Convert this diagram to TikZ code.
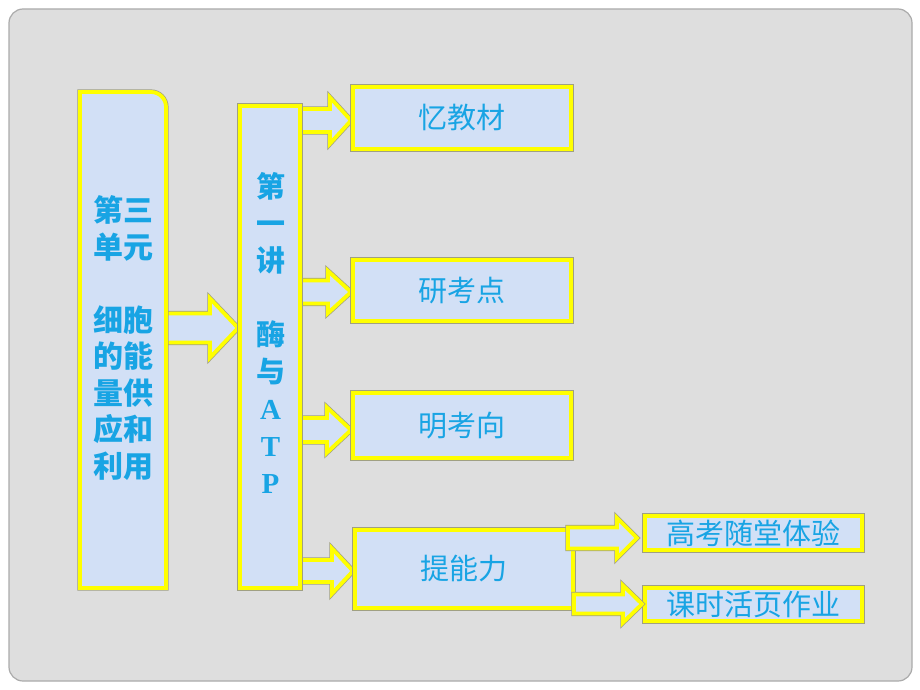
\documentclass[tikz,border=0pt]{standalone}
\usepackage{fontspec}
\newfontfamily\cjk{Noto Sans CJK SC}
\newfontfamily\atpfont{Liberation Serif}
\usetikzlibrary{calc}
\pgfdeclarelayer{arrows}
\pgfdeclarelayer{back}
\pgfsetlayers{back,arrows,main}
\definecolor{bggray}{HTML}{DEDEDE}
\definecolor{bgline}{HTML}{ABABAB}
\definecolor{boxfill}{RGB}{210,224,246}
\definecolor{txt}{RGB}{24,164,228}
\definecolor{ylw}{RGB}{255,255,0}
\definecolor{edgegray}{RGB}{160,160,130}
\tikzset{
  box/.style={draw=ylw, line width=3.8pt, fill=boxfill,
    preaction={draw=edgegray, line width=5.2pt}},
  rbox/.style={box, rectangle, anchor=north west, inner sep=0pt, outer sep=0pt,
    text=txt, font=\cjk\fontsize{29}{34}\selectfont},
  arrowbox/.style={box, line join=miter},
  coltext/.style={text=txt, align=center, inner sep=0pt}
}
\newcommand\blockarr[5]{%
  \draw[arrowbox] let \p1=(#1), \p2=(#2) in
    (\x1,\y2+#3pt) -- (\x2-#5pt,\y2+#3pt) -- (\x2-#5pt,\y2+#4pt) -- (\x2,\y2)
    -- (\x2-#5pt,\y2-#4pt) -- (\x2-#5pt,\y2-#3pt) -- (\x1,\y2-#3pt) -- cycle;}
\begin{document}
\begin{tikzpicture}[x=1pt,y=-1pt]
\useasboundingbox (0,0) rectangle (920,690);
\begin{pgfonlayer}{back}
\fill[white] (0,0) rectangle (920,690);
\draw[fill=bggray, draw=bgline, line width=1.2pt, rounded corners=14pt] (9,9) rectangle (912,681);
\end{pgfonlayer}

% boxes
\draw[box] (80,588) -- (80,92) -- (151,92)
  arc[start angle=-90, end angle=0, radius=15] -- (166,588) -- cycle;
\node[inner sep=0pt, outer sep=0pt, anchor=north west, minimum width=86pt, minimum height=496pt] (b1) at (80,92) {};
\node[rbox, minimum width=60pt, minimum height=482pt] (b2) at (240,106) {};
\node[rbox, minimum width=218pt, minimum height=62pt] (b3) at (353,87) {忆教材};
\node[rbox, minimum width=218pt, minimum height=61pt] (b4) at (353,260) {研考点};
\node[rbox, minimum width=218pt, minimum height=65pt] (b5) at (353,393) {明考向};
\node[rbox, minimum width=218pt, minimum height=78pt] (b6) at (355,530) {提能力};
\node[rbox, minimum width=217pt, minimum height=34pt] (b7) at (645,516) {高考随堂体验};
\node[rbox, minimum width=217pt, minimum height=33pt] (b8) at (645,588) {课时活页作业};

% column texts
\node[coltext, font=\cjk\bfseries\fontsize{30}{36.5}\selectfont] (t1) at (123,338)
  {第三\\单元\\ \\细胞\\的能\\量供\\应和\\利用};
\node[coltext, font=\cjk\bfseries\fontsize{29}{37}\selectfont] (t2) at (270.5,333)
  {第\\一\\讲\\ \\酶\\与\\{\atpfont A}\\{\atpfont T}\\{\atpfont P}};

% arrows (below the boxes)
\begin{pgfonlayer}{arrows}
\blockarr{b1.east}{$(b2.west)+(-2,-19)$}{14.5}{29.5}{28}
\blockarr{$(b2.east)+(-2,0)$}{$(b3.west)+(-2,2.5)$}{11.5}{23}{21}
\blockarr{$(b2.east)+(-2,0)$}{$(b4.west)+(-2,1.5)$}{11.5}{21}{23}
\blockarr{$(b2.east)+(-2,0)$}{$(b5.west)+(-2,4.5)$}{12}{22.5}{24}
\blockarr{$(b2.east)+(-2,0)$}{$(b6.west)+(-2,2)$}{11}{22.5}{21}
\end{pgfonlayer}
\blockarr{$(b6.east)+(-5,0)$}{$(b7.west)+(-8,5)$}{10.5}{20}{20}
\blockarr{$(b6.east)+(1,0)$}{$(b8.west)+(-3,-0.5)$}{9.5}{18.5}{19}
\end{tikzpicture}
\end{document}
